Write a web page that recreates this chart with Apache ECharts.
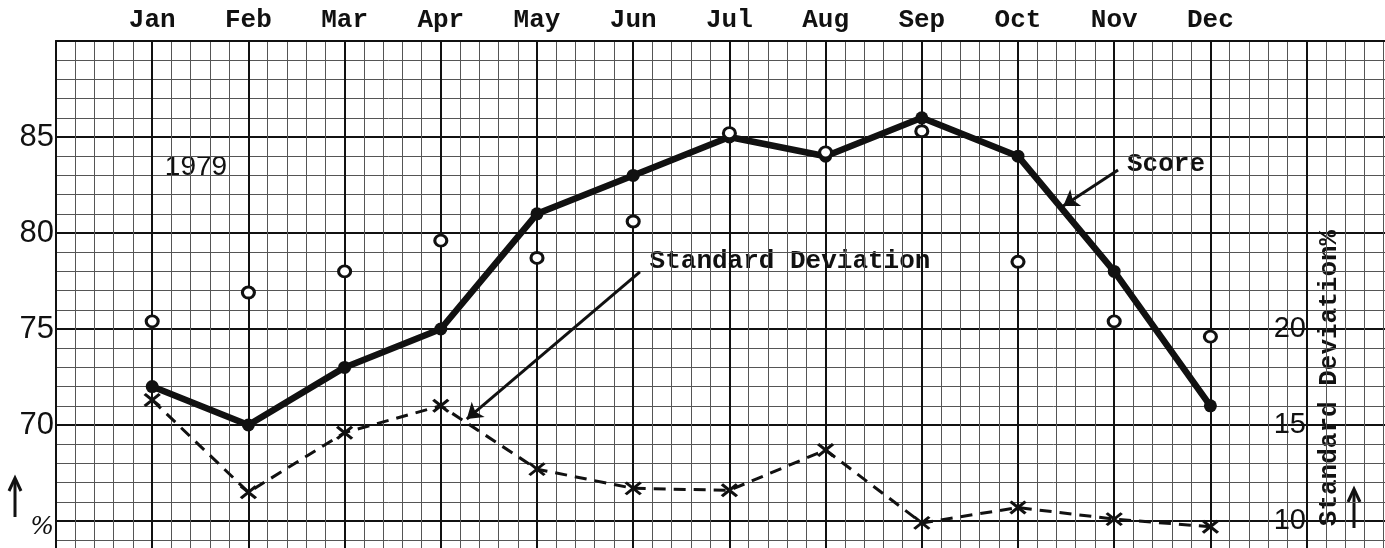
<!DOCTYPE html>
<html>
<head>
<meta charset="utf-8">
<script src="https://cdn.jsdelivr.net/npm/echarts@6/dist/echarts.min.js"></script>
<style>
html,body{margin:0;padding:0;background:#fff;}
#chart{width:1385px;height:548px;}
</style>
</head>
<body>
<div id="chart"></div>
<script>
// months on the top axis
var months = ['Jan','Feb','Mar','Apr','May','Jun','Jul','Aug','Sep','Oct','Nov','Dec'];
// score (solid line, %)
var score = [72, 70, 73, 75, 81, 83, 85, 84, 86, 84, 78, 71];
// open circles (%)
var circles = [75.4, 76.9, 78, 79.6, 78.7, 80.6, 85.2, 84.2, 85.3, 78.5, 75.4, 74.6];
// standard deviation % (dashed line, right scale)
var stdDev = [16.3, 11.5, 14.6, 16.0, 12.7, 11.7, 11.6, 13.7, 9.9, 10.7, 10.1, 9.7];
// visible tick labels
var leftLabels = [70, 75, 80, 85];
var rightLabels = [10, 15, 20];

function toPoints(arr){
	var out = [];
	for(var i = 0; i < arr.length; i++){
		out.push([i + 1, arr[i]]);
	}
	return out;
}

var chart = echarts.init(document.getElementById('chart'));
var ink = '#111';
var typeFont = '"Liberation Mono"';
var option = {
	animation: false,
	backgroundColor: '#fff',
	grid: {
		left: 56,
		top: 41,
		width: 96.2 * 14,
		height: 19.2 * 30,
		outerBoundsMode: 'none'
	},
	xAxis: {
		type: 'value',
		position: 'top',
		min: 0,
		max: 14,
		interval: 1,
		axisLine: {show: true, lineStyle: {color: ink, width: 2}},
		axisTick: {show: false},
		axisLabel: {
			margin: 8,
			color: ink,
			fontFamily: 'Liberation Mono',
			fontWeight: 'bold',
			fontSize: 26,
			formatter: function(v){
				return (v >= 1 && v <= 12) ? months[v - 1] : '';
			}
		},
		splitLine: {show: true, lineStyle: {color: ink, width: 2}},
		minorTick: {show: false, splitNumber: 5},
		minorSplitLine: {show: true, lineStyle: {color: '#555', width: 1}}
	},
	yAxis: [{
		type: 'value',
		min: 60,
		max: 90,
		interval: 5,
		axisLine: {show: true, lineStyle: {color: ink, width: 2}},
		axisTick: {show: false},
		axisLabel: {
			margin: 2,
			color: ink,
			fontFamily: 'Liberation Sans',
			fontSize: 31,
			formatter: function(v){
				if(v === 65) return '{p|%}';
				return leftLabels.indexOf(v) >= 0 ? String(v) : '';
			},
			rich: {
				p: {fontFamily: 'DejaVu Serif', fontStyle: 'italic', fontSize: 25, color: ink, padding: [12, 0, 0, 0]}
			}
		},
		splitLine: {show: true, lineStyle: {color: ink, width: 2}},
		minorTick: {show: false, splitNumber: 5},
		minorSplitLine: {show: true, lineStyle: {color: '#555', width: 1}}
	}, {
		type: 'value',
		position: 'left',
		offset: -1251,
		min: 5,
		max: 35,
		interval: 5,
		axisLine: {show: false},
		axisTick: {show: false},
		splitLine: {show: false},
		axisLabel: {
			margin: 1,
			color: ink,
			fontFamily: 'Liberation Sans',
			fontSize: 29,
			formatter: function(v){
				return rightLabels.indexOf(v) >= 0 ? String(v) : '';
			}
		}
	}],
	series: [{
		name: 'Standard Deviation',
		type: 'line',
		yAxisIndex: 1,
		data: toPoints(stdDev),
		symbol: 'path://M0,0L10,10M10,0L0,10',
		symbolSize: [15, 12],
		itemStyle: {color: ink, borderColor: ink, borderWidth: 3},
		lineStyle: {color: ink, width: 3, type: [12, 8]},
		z: 3
	}, {
		name: 'Score',
		type: 'line',
		data: toPoints(score),
		symbol: 'circle',
		symbolSize: 13,
		itemStyle: {color: ink},
		lineStyle: {color: ink, width: 6.5, cap: 'round', join: 'round'},
		z: 4,
		markLine: {
			silent: true,
			symbol: ['none', 'arrow'],
			symbolSize: 15,
			label: {show: false},
			lineStyle: {color: ink, width: 3, type: 'solid'},
			data: [
				[{coord: [6.07, 77.97]}, {coord: [4.27, 70.31]}],
				[{coord: [11.04, 83.28]}, {coord: [10.47, 81.41]}]
			]
		}
	}, {
		name: 'Circles',
		type: 'scatter',
		data: toPoints(circles),
		symbol: 'circle',
		symbolSize: [12, 11],
		itemStyle: {color: '#fff', borderColor: ink, borderWidth: 3, opacity: 1},
		z: 5
	}],
	graphic: [
		{type: 'text', x: 196, y: 167, style: {text: '1979', fill: ink, font: '28px "Liberation Sans"', textAlign: 'center', textVerticalAlign: 'middle'}},
		{type: 'text', x: 1166, y: 164, style: {text: 'Score', fill: ink, font: 'bold 26px ' + typeFont, textAlign: 'center', textVerticalAlign: 'middle'}},
		{type: 'text', x: 790, y: 261, style: {text: 'Standard Deviation', fill: ink, font: 'bold 26px ' + typeFont, textAlign: 'center', textVerticalAlign: 'middle'}},
		{type: 'text', x: 1329, y: 378, rotation: Math.PI / 2, style: {text: 'Standard Deviation%', fill: ink, font: 'bold 26px ' + typeFont, textAlign: 'center', textVerticalAlign: 'middle'}},
		// hand drawn arrows next to the axis units
		{type: 'line', shape: {x1: 15, y1: 517, x2: 15, y2: 479}, style: {stroke: ink, lineWidth: 3}},
		{type: 'polyline', shape: {points: [[9, 491], [15, 478], [21, 491]]}, style: {stroke: ink, lineWidth: 3, fill: null}},
		{type: 'line', shape: {x1: 1354, y1: 528, x2: 1354, y2: 490}, style: {stroke: ink, lineWidth: 3}},
		{type: 'polyline', shape: {points: [[1348, 502], [1354, 489], [1360, 502]]}, style: {stroke: ink, lineWidth: 3, fill: null}}
	]
};
chart.setOption(option);
</script>
</body>
</html>
